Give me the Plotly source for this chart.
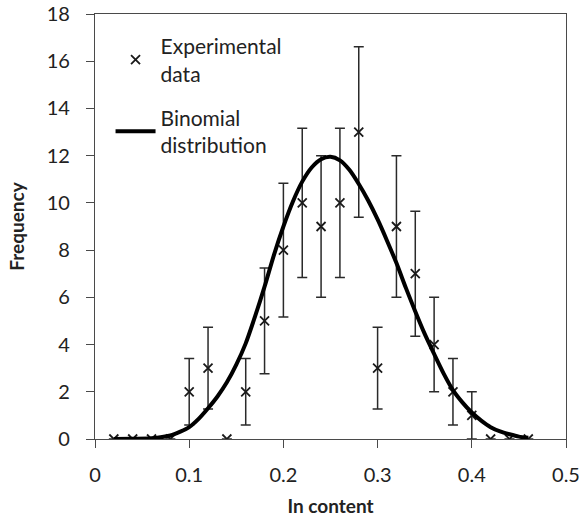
import plotly.graph_objects as go

# Measured frequencies per In-content bin
in_content = [0.02, 0.04, 0.06, 0.08, 0.10, 0.12, 0.14, 0.16, 0.18, 0.20, 0.22, 0.24,
              0.26, 0.28, 0.30, 0.32, 0.34, 0.36, 0.38, 0.40, 0.42, 0.44, 0.46]
frequency = [0, 0, 0, 0, 2, 3, 0, 2, 5, 8, 10, 9, 10, 13, 3, 9, 7, 4, 2, 1, 0, 0, 0]
freq_err = [0, 0, 0, 0, 1.41, 1.73, 0, 1.41, 2.24, 2.83, 3.16, 3.0, 3.16, 3.61,
            1.73, 3.0, 2.65, 2.0, 1.41, 1.0, 0, 0, 0]

# Fitted binomial distribution
fit_x = [0.02, 0.04, 0.06, 0.08, 0.09, 0.10, 0.11, 0.12, 0.13, 0.14, 0.15, 0.16, 0.17,
         0.18, 0.19, 0.20, 0.21, 0.22, 0.23, 0.24, 0.25, 0.26, 0.27, 0.28, 0.29, 0.30,
         0.31, 0.32, 0.33, 0.34, 0.35, 0.36, 0.37, 0.38, 0.39, 0.40, 0.41, 0.42, 0.43,
         0.44, 0.45, 0.46]
fit_y = [0.0, 0.01, 0.03, 0.15, 0.3, 0.5, 0.85, 1.3, 1.8, 2.4, 3.15, 4.05, 5.2,
         6.45, 7.8, 9.0, 10.05, 10.9, 11.5, 11.85, 11.95, 11.8, 11.4, 10.8, 10.1, 9.3,
         8.4, 7.45, 6.4, 5.4, 4.45, 3.6, 2.78, 2.07, 1.55, 1.12, 0.78, 0.5, 0.32,
         0.2, 0.1, 0.05]

x_ticks = [0, 0.1, 0.2, 0.3, 0.4, 0.5]
x_tick_text = ["0", "0.1", "0.2", "0.3", "0.4", "0.5"]
y_ticks = list(range(0, 19, 2))

FONT = "Lato"
INK = "#1a1a1a"
TEXT = "#222222"
FRAME = "#4a4a4a"

fig = go.Figure()

fig.add_trace(go.Scatter(
    x=in_content, y=frequency, mode="markers",
    name="Experimental<br>data", legendgroup="exp",
    marker=dict(symbol="x-thin", size=9, color=INK,
                line=dict(width=1.8, color=INK)),
    error_y=dict(type="data", array=freq_err, visible=True,
                 color="#2a2a2a", thickness=1.5, width=5),
))

fig.add_trace(go.Scatter(
    x=fit_x, y=fit_y, mode="lines",
    name="Binomial<br>distribution", legendgroup="fit",
    line=dict(color="black", width=4, shape="spline", smoothing=0.7),
))

axis_common = dict(
    showgrid=False, zeroline=False, showline=True, mirror=True,
    linecolor=FRAME, linewidth=1.3, automargin=False,
    ticks="outside", ticklen=8, tickcolor=FRAME, tickwidth=1.3,
    tickfont=dict(family=FONT, size=20, color=TEXT),
)

fig.update_layout(
    width=582, height=519,
    margin=dict(l=95, r=16, t=14, b=80),
    paper_bgcolor="white", plot_bgcolor="white",
    showlegend=True,
    legend=dict(
        x=0.033, y=0.972, xanchor="left", yanchor="top",
        bgcolor="rgba(0,0,0,0)", borderwidth=0,
        font=dict(family=FONT, size=21, color=TEXT),
        tracegroupgap=14, itemwidth=40,
    ),
    xaxis=dict(
        range=[0, 0.5], tickvals=x_ticks, ticktext=x_tick_text,
        ticklabelstandoff=10,
        title=dict(text="<b>In content</b>", standoff=14,
                   font=dict(family=FONT, size=19, color=TEXT)),
        **axis_common,
    ),
    yaxis=dict(
        range=[0, 18], tickvals=y_ticks,
        ticklabelstandoff=12,
        title=dict(text="<b>Frequency</b>", standoff=16,
                   font=dict(family=FONT, size=19, color=TEXT)),
        **axis_common,
    ),
)

fig.write_html("out.html")
